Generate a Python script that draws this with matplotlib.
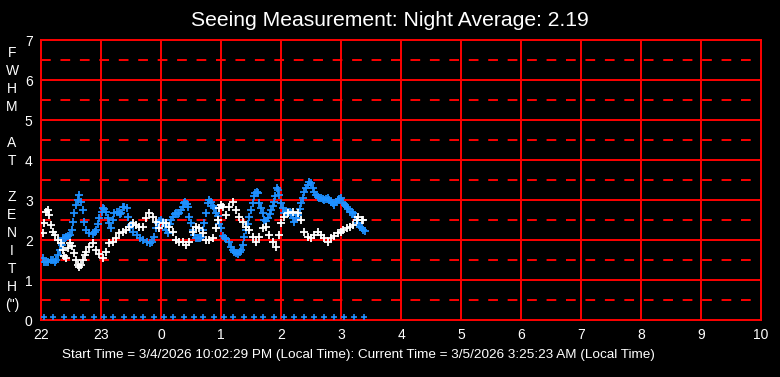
import numpy as np
import matplotlib
matplotlib.use("Agg")
import matplotlib.pyplot as plt

plt.rcParams['font.family'] = ['Liberation Sans', 'DejaVu Sans']

# minutes after 22:00 and FWHM values
white_min = [1.7, 3.3, 5, 6.5, 8.3, 10, 11.7, 14, 16.7, 20,
             21.7, 23, 25, 27, 29, 31, 33.3, 35, 36.7, 38.3,
             40, 41.7, 43.5, 45, 48.3, 51.7, 55, 58.3, 61.7, 65,
             68.3, 71.7, 75, 78.3, 81.7, 85, 88.3, 91.7, 95, 98.3,
             101.7, 105, 108.3, 111.7, 115, 118.3, 121.7, 125, 128.3, 131.7,
             135, 138.3, 141.7, 145, 148.3, 151.7, 155, 158.3, 161.7, 165,
             168.3, 171.7, 175, 176.5, 178.3, 180, 181.7, 185, 188.3, 191.7,
             195, 198.3, 201.7, 205, 208.3, 211.7, 215, 218.3, 221.7, 225,
             228.3, 231.7, 235, 238.3, 240, 243.3, 246.7, 251.7, 256.7, 260,
             263.3, 266.7, 270, 273.3, 276.7, 280, 283.3, 286.7, 290, 293.3,
             296.7, 300, 302.3, 305.7, 309, 312.3, 315.7, 317.3, 320.7, 322.3]
white_val = [2.17, 2.43, 2.71, 2.75, 2.62, 2.37, 2.21, 2.12, 2.0, 1.92,
             1.75, 1.6, 1.54, 1.8, 1.92, 1.85, 1.67, 1.5, 1.37, 1.33,
             1.38, 1.5, 1.62, 1.71, 1.83, 1.92, 1.75, 1.65, 1.54, 1.71,
             1.92, 1.96, 2.04, 2.17, 2.21, 2.25, 2.33, 2.42, 2.37, 2.33,
             2.33, 2.54, 2.67, 2.58, 2.46, 2.29, 2.42, 2.42, 2.33, 2.21,
             2.0, 1.96, 1.96, 1.87, 1.96, 2.21, 2.33, 2.29, 2.17, 2.0,
             2.0, 2.04, 2.3, 2.5, 2.79, 2.87, 2.83, 2.62, 2.83, 2.96,
             2.75, 2.58, 2.46, 2.33, 2.25, 2.08, 1.96, 2.08, 2.29, 2.33,
             2.12, 1.96, 1.83, 2.12, 2.42, 2.58, 2.67, 2.71, 2.67, 2.5,
             2.21, 2.08, 2.04, 2.12, 2.21, 2.12, 2.04, 1.96, 2.04, 2.1,
             2.17, 2.2, 2.25, 2.29, 2.33, 2.37, 2.5, 2.58, 2.5, 2.5]

blue_min = [1.7, 3, 5, 7.3, 10, 12, 14, 15, 17.3, 19,
            20.7, 22, 24, 25, 27.3, 29, 30.7, 31.7, 33.3, 35,
            36.5, 38, 40, 41.7, 43, 45, 48.3, 51.7, 54, 55,
            57.3, 58.3, 60.5, 61.7, 63, 65, 66.5, 68.3, 70, 71.5,
            73.3, 75.7, 77.5, 79, 80, 82.3, 83.3, 85.7, 87.3, 89,
            90, 92.3, 95.7, 99, 102.3, 105.7, 109, 111, 113.3, 115,
            116.5, 118.3, 120, 121.7, 123.5, 125, 126.7, 128.5, 130, 131.7,
            133.5, 135, 137, 138.3, 140, 141.7, 143, 144.3, 145.5, 146.7,
            148.3, 150, 151.7, 153.3, 155, 156.7, 158.5, 160, 161.7, 163.3,
            165, 166.7, 168.3, 170, 171.7, 173.3, 175, 176.5, 178.3, 179.5,
            181.7, 183.5, 185, 188.3, 190, 192, 193.3, 195, 196.7, 198.5,
            200, 201.7, 203.3, 205, 207, 208.3, 210, 211.7, 213, 214.3,
            215.7, 216.7, 218.3, 220, 221.7, 223.3, 225, 226.7, 228.5, 230,
            231.7, 233.3, 234.5, 235.7, 236.7, 238.3, 240, 241.7, 243.3, 245,
            246.7, 248.5, 250, 251.7, 253.3, 255, 256.7, 258.5, 260, 261.7,
            263.3, 265, 266.7, 268.3, 270, 271.7, 273.3, 275, 276.7, 278.3,
            280, 281.7, 283.3, 285, 286.7, 288.3, 290, 291.7, 293.3, 295,
            296.7, 298.3, 300, 302.3, 304, 305.7, 307.3, 309, 310.7, 312.3,
            314, 315.7, 317.3, 319, 320.7, 322.3, 324]
blue_val = [1.54, 1.46, 1.46, 1.46, 1.5, 1.5, 1.46, 1.5, 1.62, 1.75,
            1.87, 2.04, 2.06, 2.08, 2.1, 2.12, 2.25, 2.45, 2.67, 2.87,
            3.0, 3.12, 2.96, 2.75, 2.45, 2.25, 2.17, 2.15, 2.21, 2.25,
            2.4, 2.55, 2.7, 2.79, 2.77, 2.71, 2.55, 2.42, 2.29, 2.5,
            2.67, 2.71, 2.69, 2.65, 2.67, 2.83, 2.83, 2.79, 2.58, 2.33,
            2.37, 2.2, 2.12, 2.06, 2.0, 1.95, 1.92, 1.95, 2.08, 2.3,
            2.42, 2.48, 2.5, 2.46, 2.35, 2.25, 2.17, 2.4, 2.5, 2.58,
            2.65, 2.67, 2.65, 2.67, 2.75, 2.83, 2.92, 2.96, 2.9, 2.83,
            2.58, 2.42, 2.25, 2.12, 2.06, 2.04, 2.06, 2.08, 2.25, 2.42,
            2.67, 2.92, 3.0, 2.95, 2.85, 2.79, 2.67, 2.6, 2.4, 2.3,
            2.1, 2.06, 2.02, 1.94, 1.83, 1.75, 1.71, 1.67, 1.66, 1.7,
            1.75, 1.87, 2.08, 2.25, 2.4, 2.58, 2.75, 2.92, 3.1, 3.17,
            3.21, 3.17, 2.92, 2.8, 2.67, 2.5, 2.48, 2.54, 2.65, 2.75,
            2.85, 2.96, 3.1, 3.3, 3.25, 3.12, 2.92, 2.79, 2.67, 2.69,
            2.71, 2.7, 2.67, 2.55, 2.46, 2.55, 2.62, 2.78, 2.92, 3.05,
            3.21, 3.3, 3.37, 3.45, 3.42, 3.3, 3.21, 3.12, 3.08, 3.06,
            3.04, 3.02, 3.0, 3.02, 3.04, 3.0, 2.96, 2.93, 2.87, 2.95,
            3.0, 3.02, 3.04, 2.92, 2.88, 2.83, 2.77, 2.71, 2.7, 2.67,
            2.58, 2.5, 2.42, 2.33, 2.3, 2.25, 2.22]

base_min = [2.5, 12.5, 22.5, 32.5, 42.5, 52.5, 62.5, 72.5, 82.5, 92.5, 102.5, 112.5, 122.5,
            132.5, 142.5, 152.5, 162.5, 172.5, 182.5, 192.5, 202.5, 212.5, 222.5, 232.5,
            242.5, 252.5, 262.5, 272.5, 282.5, 292.5, 302.5, 312.5, 322.5]
base_val = [0.07] * len(base_min)

hour_ticks = [22, 23, 24, 25, 26, 27, 28, 29, 30, 31, 32, 33, 34]
hour_labels = ["22", "23", "0", "1", "2", "3", "4", "5", "6", "7", "8", "9", "10"]

title = "Seeing Measurement: Night Average: 2.19"
footer = ("Start Time = 3/4/2026 10:02:29 PM (Local Time): "
          "Current Time = 3/5/2026 3:25:23 AM (Local Time)")
ylabel_letters = ["F", "W", "H", "M", "", "A", "T", "", "Z", "E", "N", "I", "T", "H", "(\")"]

red = "#FF0000"
blue = "#1E90FF"

fig = plt.figure(figsize=(7.8, 3.77), dpi=100, facecolor="black")
ax = fig.add_axes([41 / 780, 1 - 320 / 377, 720 / 780, 280 / 377])
ax.set_facecolor("black")

# grid
for yv in range(1, 7):
    ax.axhline(yv, color=red, lw=1.4, zorder=1)
for yv in np.arange(0.5, 7, 1.0):
    ax.axhline(yv, color=red, lw=1.4, ls=(0, (5, 5)), zorder=1)
for xv in hour_ticks[1:-1]:
    ax.axvline(xv, color=red, lw=1.4, zorder=1)

to_hours = lambda m: 22 + np.array(m) / 60.0
mk = dict(ls="none", marker="+", markersize=6, markeredgewidth=1.3, zorder=3)
ax.plot(to_hours(base_min), base_val, color=blue, ls="none", marker="+",
        markersize=5, markeredgewidth=1.2, zorder=3)
ax.plot(to_hours(blue_min), blue_val, color=blue, **mk)
ax.plot(to_hours(white_min), white_val, color="white", **mk)

ax.set_xlim(22, 34)
ax.set_ylim(0, 7)
ax.set_xticks(hour_ticks)
ax.set_xticklabels(hour_labels)
ax.set_yticks(range(0, 8))
ax.tick_params(colors="white", labelsize=10, length=0, pad=6)
for s in ax.spines.values():
    s.set_color(red)
    s.set_linewidth(1.4)

fig.text(0.5, 1 - 20 / 377, title, color="white", fontsize=15.2, ha="center", va="center")
fig.text(62 / 780, 1 - 355 / 377, footer, color="white", fontsize=9.7, ha="left", va="center")
for i, ch in enumerate(ylabel_letters):
    if ch:
        fig.text(12 / 780, 1 - (53 + 18 * i) / 377, ch, color="white", fontsize=10,
                 ha="center", va="center")

fig.savefig("out.png", dpi=100, facecolor="black")
